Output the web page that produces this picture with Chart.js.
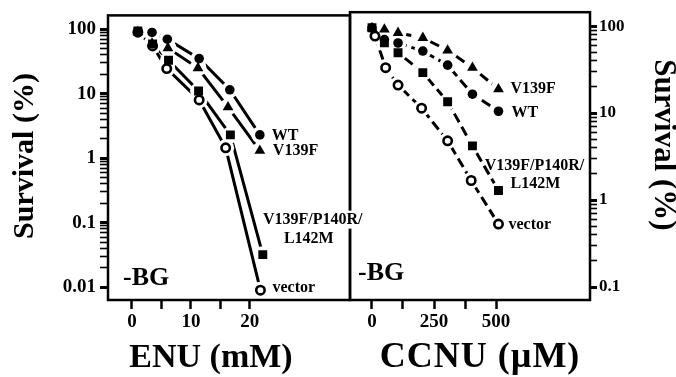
<!DOCTYPE html>
<html>
<head>
<meta charset="utf-8">
<script src="https://cdn.jsdelivr.net/npm/chart.js@4.4.0/dist/chart.umd.min.js"></script>
<style>
  html, body { margin: 0; padding: 0; background: #fff; }
  #wrap { position: relative; width: 676px; height: 377px; }
  #wrap canvas { position: absolute; left: 0; top: 0; }
</style>
</head>
<body>
<div id="wrap">
  <canvas id="ccnu" width="676" height="377"></canvas>
  <canvas id="enu" width="676" height="377"></canvas>
</div>
<script>
// ENU panel: dose (mM) and survival (%)
const enuDoseWT = [1, 3.4, 6.0, 11.4, 16.6, 21.7];
const enuWT = [92, 89, 70, 35, 11.5, 2.3];
const enuDoseV139F = [1, 3.4, 6.1, 11.2, 16.3, 21.7];
const enuV139F = [90, 60, 51, 25, 6.2, 1.31];
const enuDoseTriple = [1, 3.5, 6.2, 11.3, 16.7, 22.2];
const enuTriple = [94, 59, 33, 11, 2.3, 0.032];
const enuDoseVector = [1, 3.5, 5.9, 11.4, 15.9, 21.8];
const enuVector = [90, 55, 24.5, 8.0, 1.45, 0.009];

// CCNU panel: dose (uM) and survival (%)
const ccnuDose = [0, 50, 105, 205, 305, 405, 510];
const ccnuWT = [95, 70, 64, 51.7, 35.6, 16.5, 10.5];
const ccnuV139F = [95, 91.6, 83.8, 73.4, 52.7, 33.3, 18.8];
const ccnuTriple = [95.7, 64.4, 49.5, 29.2, 13.5, 4.2, 1.29];
const ccnuDoseVector = [12, 55, 105, 200, 305, 400, 510];
const ccnuVector = [76.8, 33.3, 21, 11.4, 4.8, 1.68, 0.53];

// axis ticks
const enuXTicks = [0, 5, 10, 15, 20];
const enuXLabels = [0, 10, 20];
const ccnuXTicks = [0, 125, 250, 375, 500];
const ccnuXLabels = [0, 250, 500];
const enuYLabels = [0.01, 0.1, 1, 10, 100];
const ccnuYLabels = [0.1, 1, 10, 100];

const FONT = "'Liberation Serif', 'Times New Roman', serif";

function pts(xs, ys) {
    return xs.map((x, i) => ({ x: x, y: ys[i] }));
}

// major decades plus 2..9 minor ticks in between
function logTicks(decades) {
    const out = [];
    decades.forEach((d, i) => {
        out.push(d);
        if (i < decades.length - 1) {
            for (let k = 2; k <= 9; k++) out.push(+(d * k).toPrecision(6));
        }
    });
    return out;
}

function isIn(list, v) {
    return list.some(l => Math.abs(l - v) < 1e-9 * Math.max(1, Math.abs(l)));
}

// each series -> line, white halo (gap round markers), marker
function seriesSets(data, style, dash) {
    const marker = {
        circle: { pointStyle: 'circle', pointRadius: 4.8, bg: '#000', bw: 0 },
        open: { pointStyle: 'circle', pointRadius: 4.2, bg: '#fff', bw: 2.6 },
        rect: { pointStyle: 'rect', pointRadius: 6.3, bg: '#000', bw: 0 },
        triangle: { pointStyle: 'triangle', pointRadius: 6.2, bg: '#000', bw: 0 }
    }[style];
    return [
        {
            data: data, borderColor: '#000', borderWidth: 3, borderDash: dash,
            pointRadius: 0, showLine: true, order: 3, tension: 0
        },
        {
            data: data, showLine: false, pointStyle: 'circle', pointRadius: 8.5,
            pointBackgroundColor: '#fff', pointBorderColor: '#fff',
            pointBorderWidth: 0, order: 2
        },
        {
            data: data, showLine: false, pointStyle: marker.pointStyle,
            pointRadius: marker.pointRadius, pointBackgroundColor: marker.bg,
            pointBorderColor: '#000', pointBorderWidth: marker.bw, order: 1
        }
    ];
}

const panelPlugin = {
    id: 'panel',
    afterDraw(chart, args, opts) {
        const { ctx, chartArea: a } = chart;
        const xs = chart.scales.x, ys = chart.scales.y;
        ctx.save();
        ctx.strokeStyle = '#000';
        ctx.lineWidth = 2.5;
        ctx.strokeRect(a.left, a.top, a.right - a.left, a.bottom - a.top);

        // series labels next to the last point
        ctx.font = 'bold 16px ' + FONT;
        ctx.textBaseline = 'middle';
        opts.labels.forEach(l => {
            const p = l.at;
            const px = xs.getPixelForValue(p.x) + l.dx;
            const py = ys.getPixelForValue(p.y) + l.dy;
            ctx.textAlign = l.align;
            const w = ctx.measureText(l.text).width;
            if (l.clear) {
                const left = l.align === 'center' ? px - w / 2 : px;
                ctx.fillStyle = '#fff';
                ctx.fillRect(left - 1, py - 9, w + 2, 18);
            }
            ctx.fillStyle = '#000';
            ctx.fillText(l.text, px, py);
        });

        // titles and panel tag
        opts.texts.forEach(t => {
            ctx.save();
            ctx.translate(t.x, t.y);
            ctx.rotate(t.rot || 0);
            ctx.font = 'bold ' + t.size + 'px ' + FONT;
            if (t.spacing) ctx.letterSpacing = t.spacing;
            ctx.textAlign = t.align || 'center';
            ctx.textBaseline = 'middle';
            ctx.fillStyle = '#000';
            ctx.fillText(t.text, 0, 0);
            ctx.restore();
        });
        ctx.restore();
    }
};

function tickFont(size) {
    return { family: FONT, weight: 'bold', size: size };
}

function makePanel(id, cfg) {
    const yTicks = logTicks(cfg.yLabels);
    return new Chart(document.getElementById(id), {
        type: 'line',
        data: { datasets: cfg.datasets },
        plugins: [panelPlugin],
        options: {
            responsive: false,
            animation: false,
            events: [],
            layout: { padding: cfg.padding },
            plugins: {
                legend: { display: false },
                tooltip: { enabled: false },
                panel: { labels: cfg.labels, texts: cfg.texts }
            },
            scales: {
                x: {
                    type: 'linear',
                    min: cfg.xMin, max: cfg.xMax,
                    afterFit: s => { s.height = 77; },
                    afterBuildTicks: s => { s.ticks = cfg.xTicks.map(v => ({ value: v })); },
                    border: { display: false },
                    grid: {
                        drawOnChartArea: false, drawTicks: true,
                        tickLength: 9, tickWidth: 2.5, tickColor: '#000'
                    },
                    ticks: {
                        autoSkip: false, maxRotation: 0, padding: 2,
                        color: '#000', font: tickFont(19),
                        callback: v => isIn(cfg.xLabels, v) ? String(v) : ''
                    }
                },
                y: {
                    type: 'logarithmic',
                    position: cfg.yPos,
                    min: cfg.yMin, max: cfg.yMax,
                    afterFit: s => { s.width = cfg.yWidth; },
                    afterBuildTicks: s => { s.ticks = yTicks.map(v => ({ value: v })); },
                    border: { display: false },
                    grid: {
                        drawOnChartArea: false, drawTicks: true,
                        tickLength: cfg.yTickLen, tickColor: '#000',
                        tickWidth: c => (c.tick && isIn(cfg.yLabels, c.tick.value)) ? 3 : 1.6
                    },
                    ticks: {
                        autoSkip: false, padding: cfg.yPad,
                        color: '#000', font: tickFont(cfg.yFont),
                        callback: v => isIn(cfg.yLabels, v) ? String(v) : ''
                    }
                }
            }
        }
    });
}

// right panel first (underneath), left panel on top so its long label can cross the divider
const cWT = pts(ccnuDose, ccnuWT);
const cV = pts(ccnuDose, ccnuV139F);
const cT = pts(ccnuDose, ccnuTriple);
const cO = pts(ccnuDoseVector, ccnuVector);
const dash = [10, 5];

makePanel('ccnu', {
    datasets: [].concat(
        seriesSets(cV, 'triangle', dash), seriesSets(cWT, 'circle', dash),
        seriesSets(cT, 'rect', dash), seriesSets(cO, 'open', dash)),
    padding: { left: 350, top: 11, right: 0, bottom: 0 },
    xMin: -88.7, xMax: 879, xTicks: ccnuXTicks, xLabels: ccnuXLabels,
    yMin: 0.071, yMax: 144.6, yLabels: ccnuYLabels, yPos: 'right',
    yWidth: 86, yTickLen: 7, yPad: 2, yFont: 17,
    labels: [
        { text: 'V139F', at: cV[cV.length - 1], dx: 12, dy: 0, align: 'left' },
        { text: 'WT', at: cWT[cWT.length - 1], dx: 13, dy: 2, align: 'left' },
        { text: 'V139F/P140R/', at: cT[cT.length - 1], dx: 36, dy: -25, align: 'center' },
        { text: 'L142M', at: cT[cT.length - 1], dx: 37, dy: -7, align: 'center' },
        { text: 'vector', at: cO[cO.length - 1], dx: 10, dy: 1, align: 'left' }
    ],
    texts: [
        { text: 'Survival (%)', x: 663, y: 145, size: 31, rot: Math.PI / 2 },
        { text: 'CCNU (\u00b5M)', x: 480, y: 358, size: 36, spacing: '1px' },
        { text: '-BG', x: 358, y: 273, size: 26, align: 'left' }
    ]
});

const eWT = pts(enuDoseWT, enuWT);
const eV = pts(enuDoseV139F, enuV139F);
const eT = pts(enuDoseTriple, enuTriple);
const eO = pts(enuDoseVector, enuVector);

makePanel('enu', {
    datasets: [].concat(
        seriesSets(eWT, 'circle', []), seriesSets(eV, 'triangle', []),
        seriesSets(eT, 'rect', []), seriesSets(eO, 'open', [])),
    padding: { left: 0, top: 11, right: 326, bottom: 0 },
    xMin: -4.07, xMax: 37.0, xTicks: enuXTicks, xLabels: enuXLabels,
    yMin: 0.00634, yMax: 163.6, yLabels: enuYLabels, yPos: 'left',
    yWidth: 108, yTickLen: 8, yPad: 4, yFont: 19,
    labels: [
        { text: 'WT', at: eWT[eWT.length - 1], dx: 12, dy: 1, align: 'left' },
        { text: 'V139F', at: eV[eV.length - 1], dx: 13, dy: 0, align: 'left' },
        { text: 'V139F/P140R/', at: eT[eT.length - 1], dx: 50, dy: -35, align: 'center', clear: true },
        { text: 'L142M', at: eT[eT.length - 1], dx: 46, dy: -16, align: 'center' },
        { text: 'vector', at: eO[eO.length - 1], dx: 12, dy: -2, align: 'left' }
    ],
    texts: [
        { text: 'Survival (%)', x: 25, y: 156, size: 30, rot: -Math.PI / 2 },
        { text: 'ENU (mM)', x: 211, y: 358, size: 34 },
        { text: '-BG', x: 123, y: 278, size: 26, align: 'left' }
    ]
});
</script>
</body>
</html>
